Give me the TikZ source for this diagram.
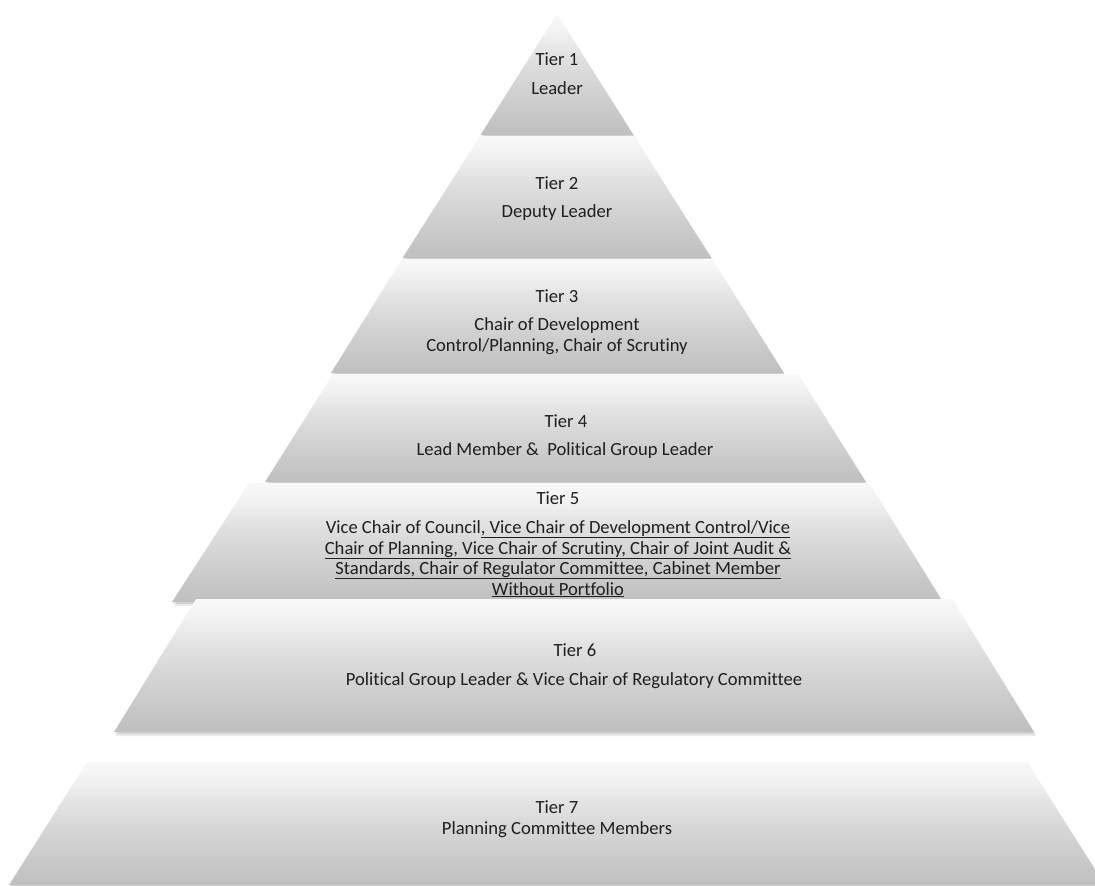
\documentclass[tikz,border=0pt]{standalone}
\usepackage{fontspec}
\setmainfont{Carlito}[Ligatures={NoCommon}]
\definecolor{gT}{HTML}{F8F8F8}
\definecolor{gL}{HTML}{F2F2F2}
\definecolor{gM}{HTML}{E2E2E2}
\definecolor{gD}{HTML}{D3D3D3}
\definecolor{gB}{HTML}{BFBFBF}
\pgfdeclareverticalshading{tiershade}{100bp}{color(0bp)=(gB); color(25bp)=(gB); color(45bp)=(gD); color(58bp)=(gM); color(68bp)=(gL); color(75bp)=(gT); color(100bp)=(gT)}
\tikzset{
  tier/.style={shading=tiershade, draw=none},
  tshadowA/.style={fill=black, opacity=0.10, shift={(1,2)}},
  tshadowB/.style={fill=black, opacity=0.08, shift={(2,4)}},
  lbl/.style={anchor=base, inner sep=0pt, text=black!88, font=\fontsize{18.6}{21}\selectfont}
}
\begin{document}
\begin{tikzpicture}[x=1pt, y=-1pt]
\useasboundingbox (0,0) rectangle (1095,886);
\fill[white] (0,0) rectangle (1095,886);
\clip (0,0) rectangle (1095,886);
% Tier 1
\foreach \s in {tshadowA,tshadowB}
  \fill[\s] (557,14) -- (633.5,135) -- (480.5,135) -- cycle;
\path[tier] (557,14) -- (633.5,135) -- (480.5,135) -- cycle;
% Tier 2
\foreach \s in {tshadowA,tshadowB}
  \fill[\s] (480,136) -- (634,136) -- (711.5,258) -- (402.5,258) -- cycle;
\path[tier] (480,136) -- (634,136) -- (711.5,258) -- (402.5,258) -- cycle;
% Tier 3
\foreach \s in {tshadowA,tshadowB}
  \fill[\s] (402,259) -- (712,259) -- (784,373) -- (331,373) -- cycle;
\path[tier] (402,259) -- (712,259) -- (784,373) -- (331,373) -- cycle;
% Tier 4
\foreach \s in {tshadowA,tshadowB}
  \fill[\s] (333,374) -- (798,374) -- (866,482) -- (265,482) -- cycle;
\path[tier] (333,374) -- (798,374) -- (866,482) -- (265,482) -- cycle;
% Tier 5
\foreach \s in {tshadowA,tshadowB}
  \fill[\s] (249,483) -- (869,483) -- (943,602) -- (172,602) -- cycle;
\path[tier] (249,483) -- (869,483) -- (943,602) -- (172,602) -- cycle;
% Tier 6
\foreach \s in {tshadowA,tshadowB}
  \fill[\s] (196,599) -- (952,599) -- (1034,732) -- (114,732) -- cycle;
\path[tier] (196,599) -- (952,599) -- (1034,732) -- (114,732) -- cycle;
% Tier 7
\foreach \s in {tshadowA,tshadowB}
  \fill[\s] (87,762) -- (1027,762) -- (1105,885) -- (9,885) -- cycle;
\path[tier] (87,762) -- (1027,762) -- (1105,885) -- (9,885) -- cycle;
% Labels
\node[lbl] (t1a) at (557,65) {Tier 1};
\node[lbl] (t1b) at (557,94) {Leader};
\node[lbl] (t2a) at (557,189) {Tier 2};
\node[lbl] (t2b) at (557,217) {Deputy Leader};
\node[lbl] (t3a) at (557,302) {Tier 3};
\node[lbl] (t3b) at (557,330) {Chair of Development};
\node[lbl] (t3c) at (557,351) {Control/Planning, Chair of Scrutiny};
\node[lbl] (t4a) at (566,427) {Tier 4};
\node[lbl] (t4b) at (565,455) {Lead Member \&\ \ Political Group Leader};
\node[lbl] (t5a) at (558,504) {Tier 5};
\node[lbl] (t5b) at (558,533) {Vice Chair of Council\underline{, Vice Chair of Development Control/Vice}};
\node[lbl] (t5c) at (558,554) {\underline{Chair of Planning, Vice Chair of Scrutiny, Chair of Joint Audit \&}};
\node[lbl] (t5d) at (558,574) {\underline{Standards, Chair of Regulator Committee, Cabinet Member}};
\node[lbl] (t5e) at (558,595) {\underline{Without Portfolio}};
\node[lbl] (t6a) at (575,656) {Tier 6};
\node[lbl] (t6b) at (574,685) {Political Group Leader \& Vice Chair of Regulatory Committee};
\node[lbl] (t7a) at (557,813) {Tier 7};
\node[lbl] (t7b) at (557,834) {Planning Committee Members};
\end{tikzpicture}
\end{document}
